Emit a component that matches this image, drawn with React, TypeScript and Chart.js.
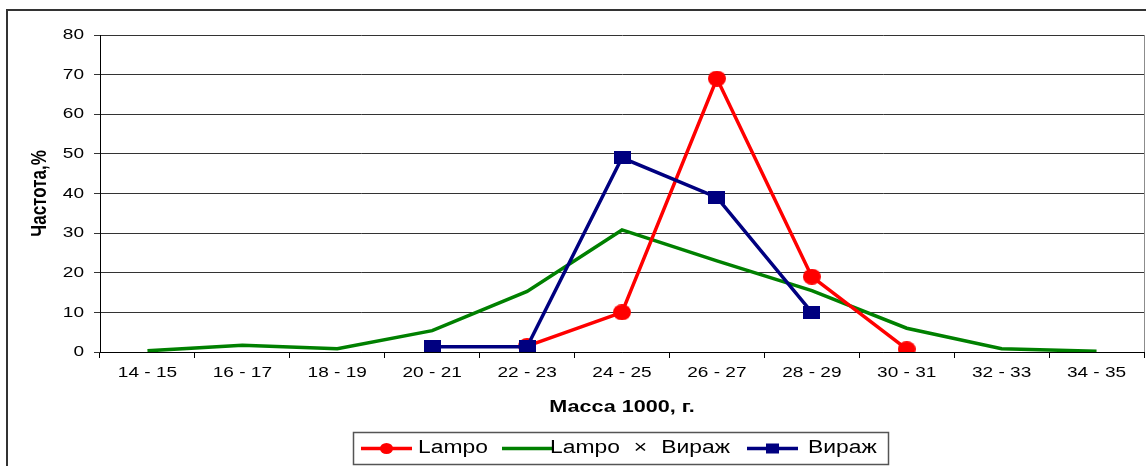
import { useEffect, useRef } from 'react';
import { Chart, registerables } from 'chart.js';

Chart.register(...registerables);

// Weight classes of 1000 grains, g
const categories = [
  '14 - 15', '16 - 17', '18 - 19', '20 - 21', '22 - 23', '24 - 25',
  '26 - 27', '28 - 29', '30 - 31', '32 - 33', '34 - 35',
];

// Frequency, %
const lampo = [null, null, null, null, 1.5, 10, 69, 19, 0.7, null, null];
const lampoVirazh = [0.3, 1.7, 0.8, 5.4, 15.3, 30.8, 23, 15.5, 6, 0.8, 0.2];
const virazh = [null, null, null, 1.3, 1.3, 49, 39, 10, null, null, null];

const seriesNames = ['Lampo', 'Lampo × Вираж', 'Вираж'];
const seriesColors = ['#ff0000', '#008000', '#000080'];

const yMin = 0;
const yMax = 80;
const yStep = 10;

const xTitle = 'Масса 1000, г.';
const yTitle = 'Частота,%';

const FONT = '"Liberation Sans", Arial, sans-serif';
// Text and markers in this chart are drawn slightly widened horizontally
const SX = 1.27;

function wideText(
  ctx: CanvasRenderingContext2D,
  text: string,
  x: number,
  y: number,
  size: number,
  bold: boolean,
  align: CanvasTextAlign,
  opts: { rotate?: boolean; wordSpacing?: number } = {}
) {
  ctx.save();
  ctx.translate(x, y);
  ctx.scale(SX, 1);
  if (opts.rotate) ctx.rotate(-Math.PI / 2);
  ctx.font = `${bold ? 'bold ' : ''}${size}px ${FONT}`;
  ctx.fillStyle = '#000';
  ctx.textAlign = align;
  ctx.textBaseline = 'middle';
  if (opts.wordSpacing) (ctx as any).wordSpacing = `${opts.wordSpacing}px`;
  ctx.fillText(text, 0, 0);
  ctx.restore();
}

function makeMarker(kind: 'circle' | 'square', color: string, w: number, h: number) {
  const c = document.createElement('canvas');
  c.width = w;
  c.height = h;
  const g = c.getContext('2d')!;
  g.fillStyle = color;
  if (kind === 'circle') {
    g.beginPath();
    g.ellipse(w / 2, h / 2, w / 2, h / 2, 0, 0, Math.PI * 2);
    g.fill();
  } else {
    g.fillRect(0, 0, w, h);
  }
  return c;
}

const decor = {
  id: 'decor',
  afterDraw(chart: any) {
    const ctx: CanvasRenderingContext2D = chart.ctx;
    const area = chart.chartArea;
    const xs = chart.scales.x;
    const ys = chart.scales.y;
    ctx.save();

    // outer frame (top and left edges)
    ctx.strokeStyle = '#333';
    ctx.lineWidth = 2;
    ctx.beginPath();
    ctx.moveTo(7, chart.height);
    ctx.lineTo(7, 10);
    ctx.lineTo(chart.width, 10);
    ctx.stroke();

    // plot area right border
    ctx.strokeStyle = '#8c8c8c';
    ctx.lineWidth = 1;
    ctx.beginPath();
    ctx.moveTo(area.right + 0.5, area.top);
    ctx.lineTo(area.right + 0.5, area.bottom);
    ctx.stroke();

    // y tick labels
    ys.ticks.forEach((t: any) => {
      wideText(ctx, String(t.value), area.left - 16, ys.getPixelForValue(t.value), 15, false, 'right');
    });

    // x tick labels
    categories.forEach((label, i) => {
      wideText(ctx, label, xs.getPixelForValue(i), area.bottom + 21, 15, false, 'center');
    });

    // axis titles
    wideText(ctx, xTitle, (area.left + area.right) / 2, 407, 17, true, 'center');
    wideText(ctx, yTitle, 40, (area.top + area.bottom) / 2, 17, true, 'center', { rotate: true });

    // legend
    const box = { x: 353, y: 432, w: 535, h: 32 };
    ctx.fillStyle = '#fff';
    ctx.fillRect(box.x, box.y, box.w, box.h);
    ctx.strokeStyle = '#555';
    ctx.lineWidth = 1.5;
    ctx.strokeRect(box.x + 0.5, box.y + 0.5, box.w, box.h);

    const cy = box.y + box.h / 2 + 0.5;
    const lineStarts = [361, 502, 747];
    const textStarts = [418, 550, 808];
    const lineLen = 51;
    seriesNames.forEach((name, i) => {
      const x0 = lineStarts[i];
      ctx.strokeStyle = seriesColors[i];
      ctx.lineWidth = 3.5;
      ctx.beginPath();
      ctx.moveTo(x0, cy);
      ctx.lineTo(x0 + lineLen, cy);
      ctx.stroke();
      ctx.fillStyle = seriesColors[i];
      const mx = x0 + lineLen / 2;
      if (i === 0) {
        ctx.beginPath();
        ctx.ellipse(mx, cy, 6.5, 5.5, 0, 0, Math.PI * 2);
        ctx.fill();
      } else if (i === 2) {
        ctx.fillRect(mx - 6.5, cy - 5, 13, 10);
      }
      wideText(ctx, name, textStarts[i], cy, 18, false, 'left', { wordSpacing: i === 1 ? 6 : 0 });
    });

    ctx.restore();
  },
};

export default function App() {
  const canvasRef = useRef<HTMLCanvasElement | null>(null);

  useEffect(() => {
    if (!canvasRef.current) return;
    const circle = makeMarker('circle', seriesColors[0], 18, 16);
    const square = makeMarker('square', seriesColors[2], 17, 13);

    const chart = new Chart(canvasRef.current, {
      type: 'line',
      data: {
        labels: categories,
        datasets: [
          {
            label: seriesNames[0],
            data: lampo,
            borderColor: seriesColors[0],
            backgroundColor: seriesColors[0],
            borderWidth: 3.5,
            pointStyle: circle as any,
            pointRadius: 8,
            order: 1,
          },
          {
            label: seriesNames[1],
            data: lampoVirazh,
            borderColor: seriesColors[1],
            backgroundColor: seriesColors[1],
            borderWidth: 3.5,
            pointRadius: 0,
            order: 2,
          },
          {
            label: seriesNames[2],
            data: virazh,
            borderColor: seriesColors[2],
            backgroundColor: seriesColors[2],
            borderWidth: 3.5,
            pointStyle: square as any,
            pointRadius: 8,
            order: 0,
          },
        ],
      },
      options: {
        responsive: false,
        animation: false,
        events: [],
        layout: { autoPadding: false, padding: { left: 0, right: 2, top: 35, bottom: 0 } },
        plugins: {
          legend: { display: false },
          tooltip: { enabled: false },
        },
        scales: {
          x: {
            type: 'category',
            offset: true,
            ticks: { display: false },
            grid: {
              offset: true,
              drawOnChartArea: false,
              drawTicks: true,
              tickLength: 6,
              color: '#000',
            },
            border: { color: '#000', width: 1 },
            afterFit: (s: any) => {
              s.height = 114;
            },
          },
          y: {
            min: yMin,
            max: yMax,
            ticks: { display: false, stepSize: yStep },
            grid: {
              color: '#333',
              lineWidth: 1,
              drawTicks: true,
              tickLength: 6,
            },
            border: { color: '#000', width: 1 },
            afterFit: (s: any) => {
              s.width = 100;
            },
          },
        },
      },
      plugins: [decor],
    });
    return () => chart.destroy();
  }, []);

  return (
    <div style={{ position: 'absolute', left: 0, top: 0, width: 1146, height: 466, background: '#fff' }}>
      <canvas ref={canvasRef} width={1146} height={466} style={{ display: 'block' }} />
    </div>
  );
}
